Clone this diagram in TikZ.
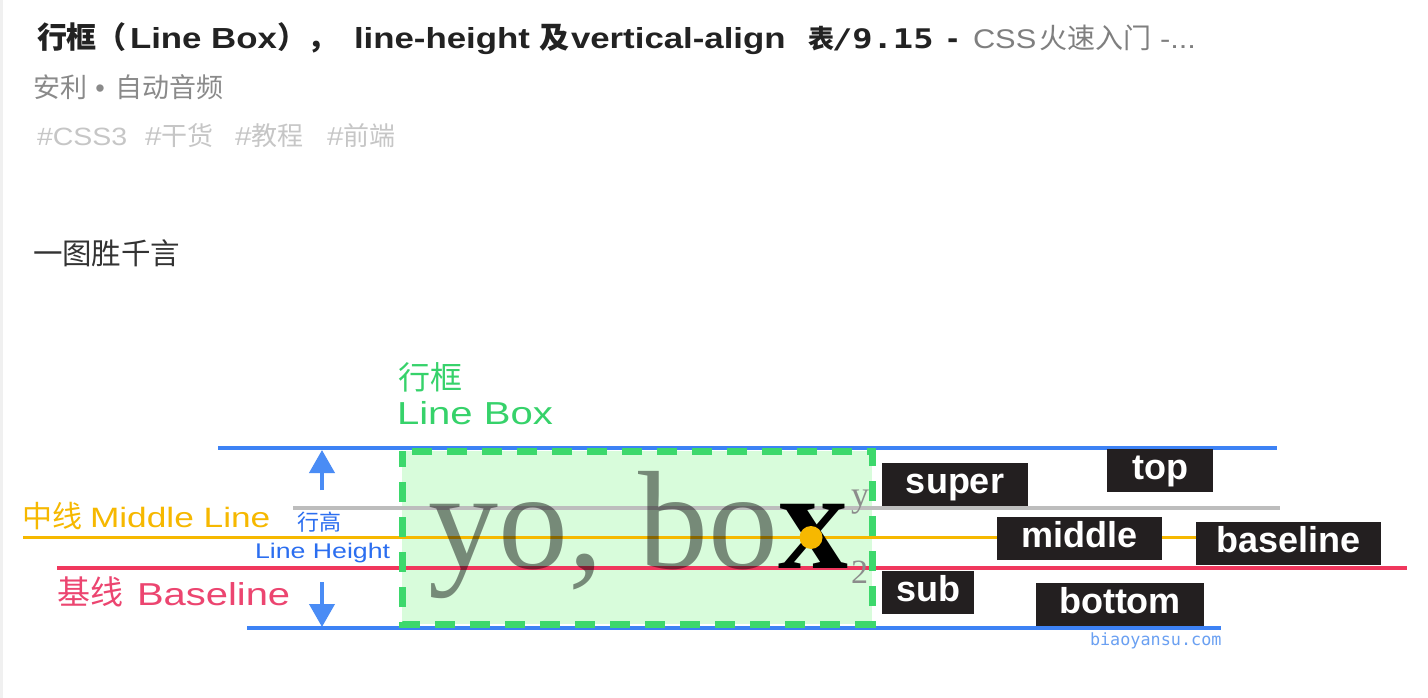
\documentclass[tikz,border=0pt]{standalone}
\usepackage{fontspec}
\usetikzlibrary{arrows.meta}
\setmainfont{Liberation Sans}
\newfontfamily\cjk{Noto Sans CJK SC}
\newfontfamily\latw[FakeStretch=1.26]{Liberation Sans}
\newfontfamily\latt[FakeStretch=1.2]{Liberation Sans}
\newfontfamily\latg[FakeStretch=1.14]{Liberation Sans}
\newfontfamily\yofont{Liberation Serif}
\newfontfamily\monob{DejaVu Sans Mono}
\newfontfamily\monow[FakeStretch=1.25]{DejaVu Sans Mono}
\newcommand\fsz[1]{\fontsize{#1}{#1}\selectfont}
\definecolor{titlec}{HTML}{222222}
\definecolor{grayt}{HTML}{7F7F7F}
\definecolor{metac}{HTML}{8A8A8A}
\definecolor{tagc}{HTML}{C6C6C6}
\definecolor{bodyc}{HTML}{333333}
\definecolor{stripc}{HTML}{F0F0F0}
\definecolor{bluel}{HTML}{3D82F5}
\definecolor{bluet}{HTML}{2B6EF0}
\definecolor{arrowc}{HTML}{4A8CF5}
\definecolor{grayl}{HTML}{BDBDBD}
\definecolor{yell}{HTML}{F6B800}
\definecolor{redl}{HTML}{F0375D}
\definecolor{redt}{HTML}{EC4570}
\definecolor{greent}{HTML}{36D26A}
\definecolor{greend}{HTML}{3DD86C}
\definecolor{greenf}{HTML}{D8FCDB}
\definecolor{labc}{HTML}{231F20}
\definecolor{wmc}{HTML}{6AA0F2}
\tikzset{
  txt/.style={anchor=base west, inner sep=0pt, outer sep=0pt},
  hline/.style={line width=4pt},
  lab/.style={fill=labc, text=white, font={\bfseries\fsz{36}}, inner sep=0pt,
    text height=30.5pt, text depth=12.5pt, minimum height=43pt, minimum width=#1},
  dimarrow/.style={draw=arrowc, line width=4pt, -{Triangle[width=25pt,length=23pt]}}
}
\begin{document}
\begin{tikzpicture}[x=1pt,y=-1pt]
\useasboundingbox (0,0) rectangle (1428,698);
\fill[white] (0,0) rectangle (1428,698);
\fill[stripc] (0,0) rectangle (3,698);

% header
\node[txt, text=titlec] (t1) at (37,49) {\cjk\bfseries\fsz{30}行框（};
\node[txt, text=titlec] (t2) at (130,49) {\latt\bfseries\fsz{29}Line Box};
\node[txt, text=titlec] (t3) at (277,49) {\cjk\bfseries\fsz{30}），};
\node[txt, text=titlec] (t4) at (354,49) {\latt\bfseries\fsz{29}line-height};
\node[txt, text=titlec] (t5) at (539,49) {\cjk\bfseries\fsz{30}及};
\node[txt, text=titlec] (t6) at (571,49) {\latt\bfseries\fsz{29}vertical-align};
\node[txt, text=titlec] (t7) at (808,49) {\cjk\bfseries\fsz{26}表};
\node[txt, text=titlec] (t8) at (832,49) {\monow\bfseries\fsz{27}/9.15};
\node[txt, text=titlec] (t9) at (944.5,49) {\monob\bfseries\fsz{27}-};
\node[txt, text=grayt] (t10) at (973,49) {\latg\fsz{27}CSS};
\node[txt, text=grayt] (t11) at (1039,49) {\cjk\fsz{28}火速入门};
\node[txt, text=grayt] (t12) at (1160,49) {\latg\fsz{27}-...};

\node[txt, text=metac] (m1) at (33,97.5) {\cjk\fsz{27}安利};
\node[anchor=base, inner sep=0pt, text=metac] (m2) at (100,97.5) {\fsz{27}•};
\node[txt, text=metac] (m3) at (115,97.5) {\cjk\fsz{27}自动音频};

\node[txt, text=tagc] (g1) at (37,146) {\latg\fsz{25}\#CSS3};
\node[txt, text=tagc] (g2) at (145,146) {\fsz{26}{\latg\#}{\cjk 干货}};
\node[txt, text=tagc] (g3) at (235,146) {\fsz{26}{\latg\#}{\cjk 教程}};
\node[txt, text=tagc] (g4) at (327,146) {\fsz{26}{\latg\#}{\cjk 前端}};

\node[txt, text=bodyc] (body) at (33,264) {\cjk\fsz{29.5}一图胜千言};

% diagram: line box
\fill[greenf] (402,451) rectangle (872,624);

\coordinate (gA) at (293,508);  \coordinate (gB) at (1280,508);
\coordinate (yA) at (23,537.5); \coordinate (yB) at (1196,537.5);
\coordinate (rA) at (57,568);   \coordinate (rB) at (1407,568);
\coordinate (tA) at (218,448);  \coordinate (tB) at (1277,448);
\coordinate (bA) at (247,628);  \coordinate (bB) at (1221,628);
\draw[hline, grayl] (gA) -- (gB);
\draw[hline, yell, line width=3.5pt] (yA) -- (yB);
\draw[hline, redl] (rA) -- (rB);
\draw[hline, bluel] (tA) -- (tB);
\draw[hline, bluel] (bA) -- (bB);

\draw[greend, line width=7pt, dash pattern=on 20pt off 15pt, dash phase=4pt] (402,451) rectangle (872,624);

\node[txt, text=black, text opacity=0.45] (yo) at (428,568) {\yofont\fsz{140}yo, bo};
\node[txt, text=black] (bx) at (yo.base east) {\yofont\bfseries\fsz{140}x};
\node[txt, text=black!45] (sup) at (851,506) {\yofont\fsz{36}y};
\node[txt, text=black!45] (sub2) at (851,583) {\yofont\fsz{34}2};
\node[circle, fill=yell, inner sep=0pt, minimum size=23pt] (dot) at (811,537.5) {};

% labels on the right
\node[lab=146] (lsuper) at (955,484.5) {super};
\node[lab=106] (ltop) at (1160,470.5) {top};
\node[lab=165] (lmiddle) at (1079.5,538.5) {middle};
\node[lab=185] (lbaseline) at (1288.5,543.5) {baseline};
\node[lab=92] (lsub) at (928,592.5) {sub};
\node[lab=168] (lbottom) at (1120,604.5) {bottom};

% left annotations
\node[txt, text=greent] (lb1) at (398,389) {\cjk\fsz{32}行框};
\node[txt, text=greent] (lb2) at (397,424) {\latw\fsz{31.8}Line Box};
\node[txt, text=yell] (ml1) at (23,527) {\cjk\fsz{30}中线};
\node[txt, text=yell] (ml2) at (90,527) {\latw\fsz{28}Middle Line};
\node[txt, text=bluet] (lh1) at (297,530) {\cjk\fsz{22}行高};
\node[txt, text=bluet] (lh2) at (255,558) {\latw\fsz{21.2}Line Height};
\node[txt, text=redt] (bl1) at (57,604) {\cjk\fsz{33}基线};
\node[txt, text=redt] (bl2) at (137,605) {\latw\fsz{31.7}Baseline};

\coordinate (ua1) at (322,490); \coordinate (ua2) at (322,450);
\coordinate (da1) at (322,582); \coordinate (da2) at (322,627);
\draw[dimarrow] (ua1) -- (ua2);
\draw[dimarrow] (da1) -- (da2);

\node[txt, text=wmc] (wm) at (1090,645) {\monob\fsz{16.8}biaoyansu.com};
\end{tikzpicture}
\end{document}
